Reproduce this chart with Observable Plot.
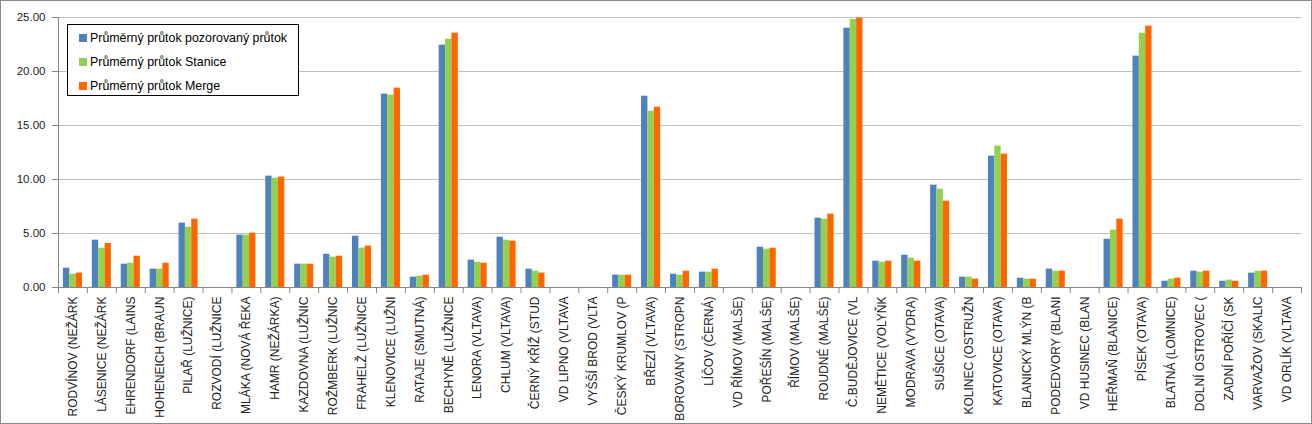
<!DOCTYPE html>
<html>
<head>
<meta charset="utf-8">
<script src="https://cdn.jsdelivr.net/npm/d3@7"></script>
<script src="https://cdn.jsdelivr.net/npm/@observablehq/plot@0.6"></script>
<style>
  html, body { margin: 0; padding: 0; background: #fff; }
  #wrap { position: relative; width: 1312px; height: 424px; }
  #wrap svg { outline: 1px solid #8a8a8a; outline-offset: -1px; display: block; }
  #legend { position: absolute; left: 67px; top: 24px; width: 230px; height: 70px; border: 1px solid #000; background: #fff;
    font-family: "Liberation Sans", Arial, sans-serif; font-size: 12.4px; color: #000; }
  .item { position: absolute; left: 11px; height: 14px; line-height: 14px; white-space: nowrap; }
  .sw { display: inline-block; width: 8px; height: 8px; margin-right: 3px; vertical-align: 0px; }
</style>
</head>
<body>
<div id="wrap"></div>
<script>
const categories = ["RODVÍNOV (NEŽÁRK","LÁSENICE (NEŽÁRK","EHRENDORF (LAINS","HOHENEICH (BRAUN","PILAŘ (LUŽNICE)","ROZVODÍ (LUŽNICE","MLÁKA (NOVÁ ŘEKA","HAMR (NEŽÁRKA)","KAZDOVNA (LUŽNIC","ROŽMBERK (LUŽNIC","FRAHELŽ (LUŽNICE","KLENOVICE (LUŽNI","RATAJE (SMUTNÁ)","BECHYNĚ (LUŽNICE","LENORA (VLTAVA)","CHLUM (VLTAVA)","ČERNÝ KŘÍŽ (STUD","VD LIPNO (VLTAVA","VYŠŠÍ BROD (VLTA","ČESKÝ KRUMLOV (P","BŘEZÍ (VLTAVA)","BOROVANY (STROPN","LÍČOV (ČERNÁ)","VD ŘÍMOV (MALŠE)","POŘEŠÍN (MALŠE)","ŘÍMOV (MALŠE)","ROUDNÉ (MALŠE)","Č.BUDĚJOVICE (VL","NEMĚTICE (VOLYŇK","MODRAVA (VYDRA)","SUŠICE (OTAVA)","KOLINEC (OSTRUŽN","KATOVICE (OTAVA)","BLANICKÝ MLÝN (B","PODEDVORY (BLANI","VD HUSINEC (BLAN","HEŘMAŇ (BLANICE)","PÍSEK (OTAVA)","BLATNÁ (LOMNICE)","DOLNÍ OSTROVEC (","ZADNÍ POŘÍČÍ (SK","VARVAŽOV (SKALIC","VD ORLÍK (VLTAVA"];
const pozorovany = [1.79,4.38,2.16,1.70,5.96,null,4.85,10.31,2.16,3.08,4.75,17.90,0.96,22.44,2.53,4.66,1.70,null,null,1.14,17.71,1.23,1.42,null,3.73,null,6.42,24.01,2.44,2.99,9.48,0.96,12.16,0.86,1.70,null,4.47,21.42,0.58,1.51,0.58,1.33,null];
const stanice = [1.23,3.64,2.25,1.70,5.59,null,4.85,10.12,2.16,2.81,3.64,17.81,1.05,22.99,2.34,4.38,1.51,null,null,1.14,16.32,1.14,1.42,null,3.55,null,6.33,24.81,2.34,2.71,9.10,0.96,13.09,0.77,1.51,null,5.31,23.55,0.77,1.42,0.68,1.51,null];
const merge = [1.33,4.07,2.90,2.25,6.33,null,5.03,10.22,2.16,2.90,3.83,18.46,1.14,23.55,2.25,4.29,1.33,null,null,1.14,16.69,1.51,1.70,null,3.64,null,6.79,24.94,2.44,2.44,7.99,0.77,12.35,0.77,1.51,null,6.33,24.20,0.86,1.51,0.58,1.51,null];
const seriesNames = ["Průměrný průtok pozorovaný průtok","Průměrný průtok Stanice","Průměrný průtok Merge"];
const seriesColors = ["#4F81BD","#92D050","#FF6600"];
const yTicks = [0,5,10,15,20,25];

const seriesValues = [pozorovany, stanice, merge];
const W = 1312, H = 424, mL = 58, mR = 11, mT = 17, mB = 137;
const step = (W - mL - mR) / categories.length;
const barW = step * 0.22;

const marks = [
  Plot.gridY(yTicks, {stroke: "#bfbfbf", strokeOpacity: 1}),
];
seriesValues.forEach((vals, s) => {
  const rows = categories.map((c, i) => ({cat: c, v: vals[i]})).filter(d => d.v != null);
  marks.push(Plot.barY(rows, {x: "cat", y: "v", fill: seriesColors[s], dx: (s - 1) * barW}));
});
marks.push(
  Plot.ruleY([0], {stroke: "#868686"}),
  Plot.frame({anchor: "left", stroke: "#868686"}),
  Plot.ruleX(categories, {x: d => d, y1: 0, y2: 0, insetBottom: -6, dx: -step / 2, stroke: "#868686"}),
  Plot.ruleX(categories.slice(-1), {x: d => d, y1: 0, y2: 0, insetBottom: -6, dx: step / 2, stroke: "#868686"}),
  Plot.axisY(yTicks, {tickFormat: d3.format(".2f"), tickSize: 6, tickPadding: 7, stroke: "#868686", fontSize: 11.5}),
  Plot.axisX({tickSize: 0, tickPadding: 9, tickRotate: -90, fontSize: 12})
);

const chart = Plot.plot({
  width: W, height: H,
  marginLeft: mL, marginRight: mR, marginTop: mT, marginBottom: mB,
  style: {fontFamily: "'Liberation Sans', Arial, sans-serif", color: "#222", background: "#fff"},
  x: {type: "band", domain: categories, paddingInner: 0.78, paddingOuter: 0.39, label: null},
  y: {domain: [0, 25], label: null},
  marks
});
const wrap = document.getElementById("wrap");
wrap.appendChild(chart);

const legend = document.createElement("div");
legend.id = "legend";
seriesNames.forEach((n, i) => {
  const it = document.createElement("div");
  it.className = "item";
  it.style.top = (6 + i * 24) + "px";
  it.innerHTML = `<span class="sw" style="background:${seriesColors[i]}"></span>${n}`;
  legend.appendChild(it);
});
wrap.appendChild(legend);
</script>
</body>
</html>
